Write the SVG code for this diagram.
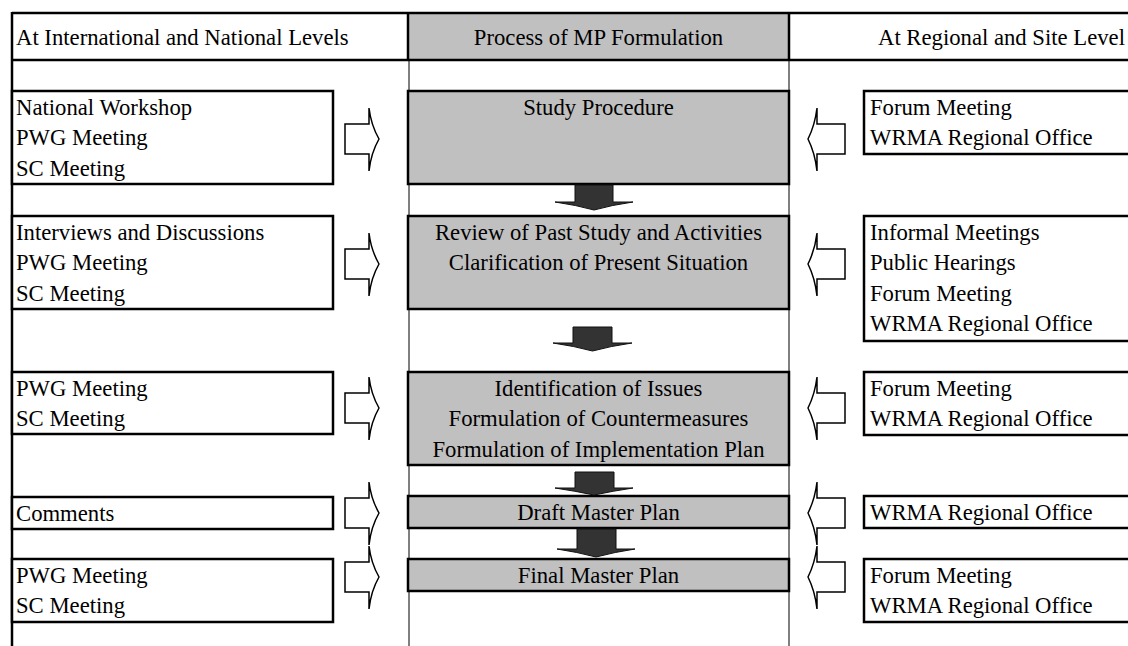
<svg xmlns="http://www.w3.org/2000/svg" width="1128" height="646" viewBox="0 0 1128 646">
  <defs>
    <style>
      .t { font-family: "Liberation Serif", "Times New Roman", serif; font-size: 22.7px; fill: #000; }
      .c { text-anchor: middle; }
      .box { fill: #fff; stroke: #000; stroke-width: 2.5; }
      .step { fill: #c0c0c0; stroke: #000; stroke-width: 2.5; }
      .thin { stroke: #000; stroke-width: 1; fill: none; }
      .thick { stroke: #000; stroke-width: 2.5; fill: none; }
      .inArrow { fill: #fff; stroke: #000; stroke-width: 1.5; stroke-linejoin: miter; }
      .flow { fill: #333; stroke: #111; stroke-width: 1; }
    </style>
    <!-- hollow block arrows: pointing right (from left column) and left (from right column) -->
    <path id="arrowR" d="M0,-15 H24 V-31 Q26,-14 34,0 Q26,14 24,32 V15 H0 Z"/>
    <path id="arrowL" d="M0,-15 H-28 V-31 Q-30,-14 -37,0 Q-30,14 -28,32 V15 H0 Z"/>
  </defs>

  <rect width="1128" height="646" fill="#fff"/>

  <!-- frame and column grid -->
  <g id="grid">
    <rect x="408" y="13" width="381" height="47" fill="#c0c0c0"/>
    <line class="thin" x1="409" y1="60" x2="409" y2="646"/>
    <line class="thin" x1="789" y1="60" x2="789" y2="646"/>
    <line class="thick" x1="12" y1="13" x2="1128" y2="13"/>
    <line class="thick" x1="12" y1="60" x2="1128" y2="60"/>
    <line class="thick" x1="12" y1="12" x2="12" y2="646"/>
    <line class="thick" x1="408" y1="13" x2="408" y2="60"/>
    <line class="thick" x1="789" y1="13" x2="789" y2="60"/>
  </g>

  <!-- column headings -->
  <g id="headers">
    <text class="t" x="16" y="45">At International and National Levels</text>
    <text class="t c" x="598.5" y="45">Process of MP Formulation</text>
    <text class="t" x="878" y="45">At Regional and Site Level</text>
  </g>

  <!-- left column: international / national inputs -->
  <g id="left-1">
    <rect class="box" x="12" y="91" width="321" height="93"/>
    <text class="t" x="16" y="114.5">National Workshop</text>
    <text class="t" x="16" y="145">PWG Meeting</text>
    <text class="t" x="16" y="175.5">SC Meeting</text>
  </g>
  <g id="left-2">
    <rect class="box" x="12" y="216" width="321" height="93"/>
    <text class="t" x="16" y="239.5">Interviews and Discussions</text>
    <text class="t" x="16" y="270">PWG Meeting</text>
    <text class="t" x="16" y="300.5">SC Meeting</text>
  </g>
  <g id="left-3">
    <rect class="box" x="12" y="372" width="321" height="62"/>
    <text class="t" x="16" y="395.5">PWG Meeting</text>
    <text class="t" x="16" y="426">SC Meeting</text>
  </g>
  <g id="left-4">
    <rect class="box" x="12" y="497" width="321" height="32"/>
    <text class="t" x="16" y="520.5">Comments</text>
  </g>
  <g id="left-5">
    <rect class="box" x="12" y="559" width="321" height="63"/>
    <text class="t" x="16" y="582.5">PWG Meeting</text>
    <text class="t" x="16" y="613">SC Meeting</text>
  </g>

  <!-- centre column: formulation steps -->
  <g id="step-1">
    <rect class="step" x="408" y="91" width="381" height="93"/>
    <text class="t c" x="598.5" y="114.5">Study Procedure</text>
  </g>
  <g id="step-2">
    <rect class="step" x="408" y="216" width="381" height="93"/>
    <text class="t c" x="598.5" y="239.5">Review of Past Study and Activities</text>
    <text class="t c" x="598.5" y="270">Clarification of Present Situation</text>
  </g>
  <g id="step-3">
    <rect class="step" x="408" y="372" width="381" height="93"/>
    <text class="t c" x="598.5" y="395.5">Identification of Issues</text>
    <text class="t c" x="598.5" y="426">Formulation of Countermeasures</text>
    <text class="t c" x="598.5" y="456.5">Formulation of Implementation Plan</text>
  </g>
  <g id="step-4">
    <rect class="step" x="408" y="496" width="381" height="32"/>
    <text class="t c" x="598.5" y="520">Draft Master Plan</text>
  </g>
  <g id="step-5">
    <rect class="step" x="408" y="559" width="381" height="32"/>
    <text class="t c" x="598.5" y="582.5">Final Master Plan</text>
  </g>

  <!-- right column: regional / site inputs -->
  <g id="right-1">
    <rect class="box" x="864" y="91" width="280" height="63"/>
    <text class="t" x="870" y="114.5">Forum Meeting</text>
    <text class="t" x="870" y="145">WRMA Regional Office</text>
  </g>
  <g id="right-2">
    <rect class="box" x="864" y="216" width="280" height="125"/>
    <text class="t" x="870" y="239.5">Informal Meetings</text>
    <text class="t" x="870" y="270">Public Hearings</text>
    <text class="t" x="870" y="300.5">Forum Meeting</text>
    <text class="t" x="870" y="331">WRMA Regional Office</text>
  </g>
  <g id="right-3">
    <rect class="box" x="864" y="372" width="280" height="63"/>
    <text class="t" x="870" y="395.5">Forum Meeting</text>
    <text class="t" x="870" y="426">WRMA Regional Office</text>
  </g>
  <g id="right-4">
    <rect class="box" x="864" y="496" width="280" height="32"/>
    <text class="t" x="870" y="520">WRMA Regional Office</text>
  </g>
  <g id="right-5">
    <rect class="box" x="864" y="559" width="280" height="63"/>
    <text class="t" x="870" y="582.5">Forum Meeting</text>
    <text class="t" x="870" y="613">WRMA Regional Office</text>
  </g>

  <!-- connectors: input arrows and process flow arrows -->
  <g id="connectors">
    <use href="#arrowR" class="inArrow" transform="translate(345,139)"/>
    <use href="#arrowR" class="inArrow" transform="translate(345,264)"/>
    <use href="#arrowR" class="inArrow" transform="translate(345,408)"/>
    <use href="#arrowR" class="inArrow" transform="translate(345,513)"/>
    <use href="#arrowR" class="inArrow" transform="translate(345,577)"/>

    <use href="#arrowL" class="inArrow" transform="translate(845,139)"/>
    <use href="#arrowL" class="inArrow" transform="translate(845,264)"/>
    <use href="#arrowL" class="inArrow" transform="translate(845,408)"/>
    <use href="#arrowL" class="inArrow" transform="translate(845,513)"/>
    <use href="#arrowL" class="inArrow" transform="translate(845,577)"/>

    <path class="flow" d="M575,185 H613 V202 H633 Q612,205 594,210 Q576,205 555,202 H575 Z"/>
    <path class="flow" d="M573,327 H612 V343 H632 Q611,346 592.5,351 Q574,346 553,343 H573 Z"/>
    <path class="flow" d="M575,472 H614 V488 H633 Q613,491 594,495 Q575,491 555,488 H575 Z"/>
    <path class="flow" d="M577,529 H616 V549 H635 Q615,552 596,557 Q577,552 557,549 H577 Z"/>
  </g>
</svg>
